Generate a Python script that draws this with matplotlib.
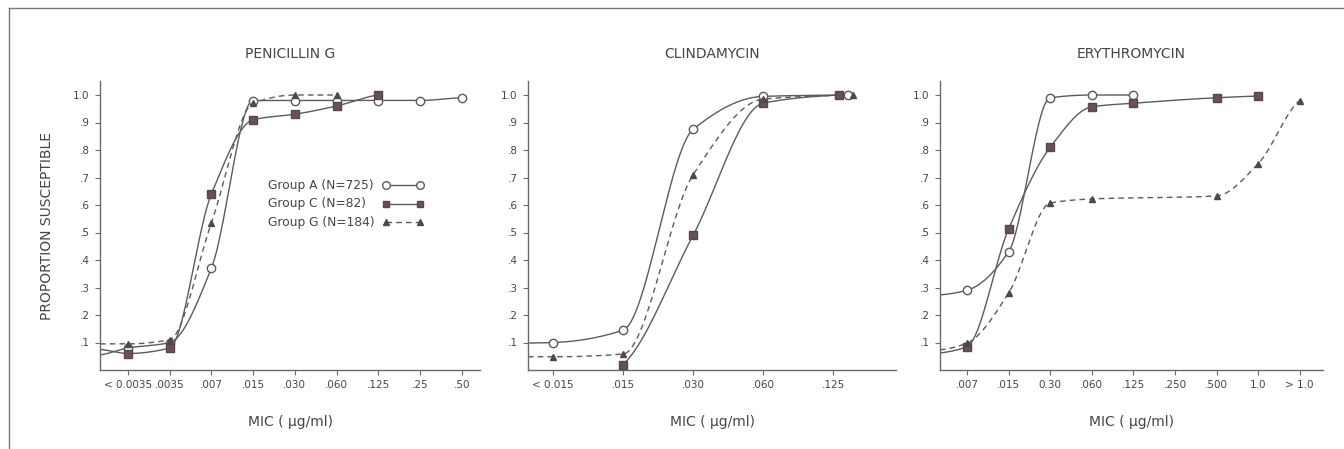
import numpy as np
import matplotlib.pyplot as plt
from matplotlib.lines import Line2D

nan = np.nan

# --- data (x = position of the MIC category) ---
pen_labels = ["< 0.0035", ".0035", ".007", ".015", ".030", ".060", ".125", ".25", ".50"]
pen_a = [0.08, 0.10, 0.37, 0.98, 0.98, 0.98, 0.98, 0.98, 0.99]
pen_c = [0.06, 0.08, 0.64, 0.91, 0.93, 0.96, 1.00, nan, nan]
pen_g = [0.095, 0.11, 0.535, 0.97, 1.00, 1.00, nan, nan, nan]
pen_start = {"A": 0.055, "C": 0.075, "G": 0.095}

cli_labels = ["< 0.015", ".015", ".030", ".060", ".125"]
cli_a = [0.10, 0.145, 0.875, 0.995, 1.00]
cli_c = [nan, 0.02, 0.49, 0.97, 1.00]
cli_g = [0.048, 0.058, 0.71, 0.985, 1.00]
cli_start = {"A": 0.098, "C": None, "G": 0.048}

ery_labels = [".007", ".015", "0.30", ".060", ".125", ".250", ".500", "1.0", "> 1.0"]
ery_a = [0.29, 0.43, 0.99, 1.00, 1.00, nan, nan, nan, nan]
ery_c = [0.085, 0.513, 0.81, 0.957, 0.97, nan, 0.99, 0.996, nan]
ery_g = [0.098, 0.28, 0.607, 0.622, nan, nan, 0.633, 0.75, 0.98]
ery_start = {"A": 0.273, "C": 0.062, "G": 0.073}

groups = ["A", "C", "G"]
legend_labels = {"A": "Group A (N=725)", "C": "Group C (N=82)", "G": "Group G (N=184)"}

LINE = "#5b5b5b"
TXT = "#454545"
styles = {
    "A": dict(ls="-", marker="o", mfc="white", mec="#5b5b5b", ms=6),
    "C": dict(ls="-", marker="s", mfc="#6a5158", mec="#5a454b", ms=5.5),
    "G": dict(ls=(0, (4, 3)), marker="^", mfc="#4a4a4a", mec="#4a4a4a", ms=5),
}


def pchip(x, y, xs):
    x = np.asarray(x, float)
    y = np.asarray(y, float)
    h = np.diff(x)
    d = np.diff(y) / h
    n = len(x)
    m = np.zeros(n)
    if n == 2:
        m[:] = d[0]
    else:
        for k in range(1, n - 1):
            if d[k - 1] * d[k] <= 0:
                m[k] = 0
            else:
                w1 = 2 * h[k] + h[k - 1]
                w2 = h[k] + 2 * h[k - 1]
                m[k] = (w1 + w2) / (w1 / d[k - 1] + w2 / d[k])
        m[0] = d[0] * 0.5
        m[-1] = d[-1] * 0.5
    idx = np.clip(np.searchsorted(x, xs) - 1, 0, n - 2)
    t = (xs - x[idx]) / h[idx]
    h00 = 2 * t**3 - 3 * t**2 + 1
    h10 = t**3 - 2 * t**2 + t
    h01 = -2 * t**3 + 3 * t**2
    h11 = t**3 - t**2
    return h00 * y[idx] + h10 * h[idx] * m[idx] + h01 * y[idx + 1] + h11 * h[idx] * m[idx + 1]


W, H = 1344, 449
fig = plt.figure(figsize=(W / 100, H / 100), dpi=100)
plt.rcParams['font.family'] = ['DejaVu Sans']

panels = [
    ("PENICILLIN G", pen_labels, {"A": pen_a, "C": pen_c, "G": pen_g}, pen_start,
     (100, 480), (-0.67, 8.44), {}),
    ("CLINDAMYCIN", cli_labels, {"A": cli_a, "C": cli_c, "G": cli_g}, cli_start,
     (528, 896), (-0.36, 4.9), {"A": 0.21, "C": 0.08, "G": 0.29}),
    ("ERYTHROMYCIN", ery_labels, {"A": ery_a, "C": ery_c, "G": ery_g}, ery_start,
     (940, 1323), (-0.65, 8.56), {}),
]

y0_px, ytop = 370, 1.05
unit = 275
for i, (title, labels, series, starts, (px0, px1), xlim, nudge) in enumerate(panels):
    ax = fig.add_axes([px0 / W, (H - y0_px) / H, (px1 - px0) / W, unit * ytop / H])
    ax.set_xlim(*xlim)
    ax.set_ylim(0, ytop)
    for key in groups:
        vals = np.array(series[key], float)
        xs = np.arange(len(vals), dtype=float)
        ok = ~np.isnan(vals)
        px, py = xs[ok], vals[ok]
        if key in nudge:
            px = px.copy()
            px[-1] += nudge[key]
        cx, cy = px, py
        if starts[key] is not None:
            cx = np.r_[xlim[0], px]
            cy = np.r_[starts[key], py]
        xx = np.linspace(cx[0], cx[-1], 400)
        st = styles[key]
        ax.plot(xx, pchip(cx, cy, xx), color=LINE, lw=1.0, ls=st["ls"], zorder=2)
        ax.plot(px, py, ls="none", marker=st["marker"], mfc=st["mfc"], mec=st["mec"],
                ms=st["ms"], mew=1.0, zorder=3, clip_on=False)
    ax.spines[["top", "right"]].set_visible(False)
    for s in ["left", "bottom"]:
        ax.spines[s].set_color("#6a6a6a")
        ax.spines[s].set_linewidth(1.0)
    ax.set_xticks(range(len(labels)))
    ax.set_xticklabels(labels)
    yt = np.round(np.arange(0.1, 1.01, 0.1), 1)
    ax.set_yticks(yt)
    ax.set_yticklabels(["1.0" if v == 1.0 else ("%.1f" % v)[1:] for v in yt])
    ax.tick_params(direction="out", length=3.5, width=0.8, color="#6a6a6a",
                   labelsize=7.5, labelcolor=TXT, pad=4)
    ax.set_title(title, fontsize=10, color=TXT, pad=17)
    ax.set_xlabel("MIC ( \u03bcg/ml)", fontsize=10, color=TXT, labelpad=18)
    if i == 0:
        ax.set_ylabel("PROPORTION SUSCEPTIBLE", fontsize=10, color=TXT, labelpad=14)
        # hand-built key: text on the left, sample line with markers on the right
        for r, key in enumerate(groups):
            st = styles[key]
            yy = 0.640 - r * 0.064
            ax.text(0.442, yy, legend_labels[key], transform=ax.transAxes,
                    fontsize=8.8, color=TXT, va="center", ha="left")
            ax.add_line(Line2D([0.752, 0.842], [yy, yy], transform=ax.transAxes,
                               color=LINE, lw=1.0, ls=st["ls"], marker=st["marker"],
                               mfc=st["mfc"], mec=st["mec"], ms=st["ms"] - 0.5))

# page frame
fig.add_artist(Line2D([9 / W, 1], [1 - 8 / H, 1 - 8 / H], color="#777777", lw=1.0))
fig.add_artist(Line2D([9 / W, 9 / W], [1 - 8 / H, 0], color="#777777", lw=1.0))

fig.savefig("out.png", dpi=100)
